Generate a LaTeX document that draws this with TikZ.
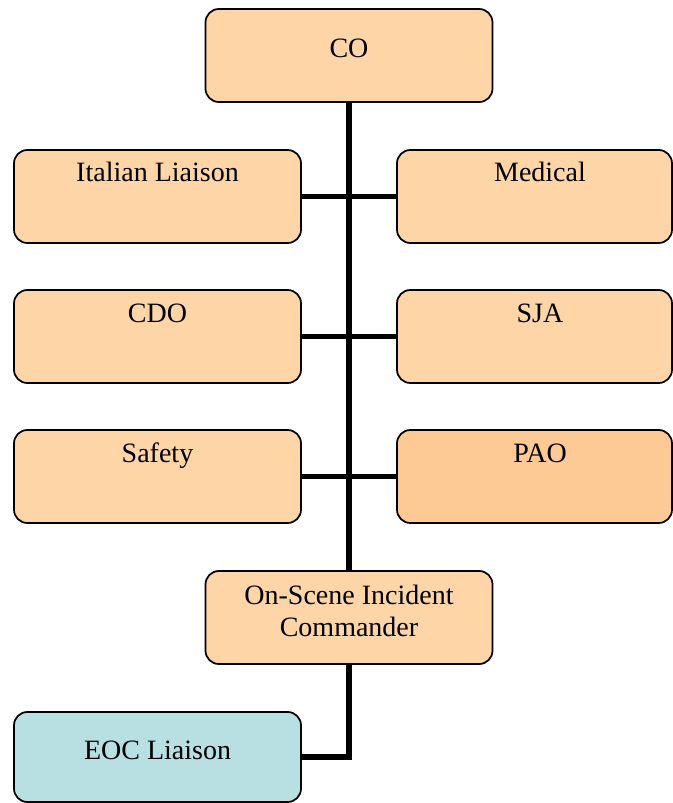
\documentclass[tikz,border=0pt]{standalone}
\usepackage{fontspec}
\setmainfont{Liberation Serif}
\definecolor{peach}{HTML}{FDD5A7}
\definecolor{peachdark}{HTML}{FDCA96}
\definecolor{paleblue}{HTML}{B8DFE2}
\tikzset{
  unit/.style={draw=black, line width=1.3pt, rounded corners=10pt, fill=peach,
    inner sep=0pt, outer sep=0pt, minimum height=69.75pt, minimum width=215.25pt},
  wide/.style={minimum width=206.25pt},
  txtbase/.style={font=\fontsize{21}{24}\selectfont, align=center, inner sep=0pt},
  txt/.style={txtbase, text height=13.9pt, text depth=0pt},
  link/.style={line width=4pt}
}
\begin{document}
\begin{tikzpicture}[x=0.75pt, y=-0.75pt]
\useasboundingbox (0,0) rectangle (673,803);
% boxes
\node[unit] (co)   at (349,55.5)   {};
\node[unit] (il)   at (157.5,196.5) {};
\node[unit,wide] (med)  at (534.5,196.5) {};
\node[unit] (cdo)  at (157.5,336.5) {};
\node[unit,wide] (sja)  at (534.5,336.5) {};
\node[unit] (saf)  at (157.5,476.5) {};
\node[unit,wide,fill=peachdark] (pao)  at (534.5,476.5) {};
\node[unit] (osic) at (349,617.5) {};
\node[unit,fill=paleblue,minimum height=67.5pt] (eoc) at (157.5,757) {};
% labels
\node[txt] (tco)   at (349,48) {CO};
\node[txt] (til)   at (157.5,172) {Italian Liaison};
\node[txt] (tmed)  at (540,172) {Medical};
\node[txt] (tcdo)  at (157.5,313) {CDO};
\node[txt] (tsja)  at (540,313) {SJA};
\node[txt] (tsaf)  at (157.5,453) {Safety};
\node[txt] (tpao)  at (540,453) {PAO};
\node[txtbase] (tosic) at (349,611) {On-Scene Incident\\Commander};
\node[txt] (teoc)  at (157.5,750) {EOC Liaison};
% connectors
\draw[link] (co.south) -- (osic.north);
\draw[link] (il.east) -- (med.west);
\draw[link] (cdo.east) -- (sja.west);
\draw[link] (saf.east) -- (pao.west);
\draw[link] (osic.south) |- (eoc.east);
\end{tikzpicture}
\end{document}
